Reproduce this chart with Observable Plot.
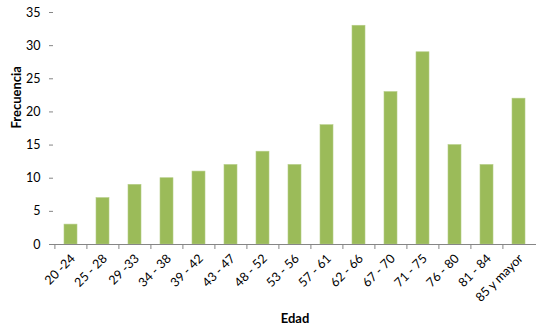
<!DOCTYPE html>
<html>
<head>
<meta charset="utf-8">
<script src="https://cdn.jsdelivr.net/npm/d3@7"></script>
<script src="https://cdn.jsdelivr.net/npm/@observablehq/plot@0.6"></script>
<style>
  html, body { margin: 0; padding: 0; background: #fff; }
  svg { display: block; }
</style>
</head>
<body>
<div id="chart"></div>
<script>
const categories = ["20 -24", "25 - 28", "29 -33", "34 - 38", "39 - 42", "43 - 47", "48 - 52", "53 - 56", "57 - 61", "62 - 66", "67 - 70", "71 - 75", "76 - 80", "81 - 84", "85 y mayor"];
const frecuencia = [3, 7, 9, 10, 11, 12, 14, 12, 18, 33, 23, 29, 15, 12, 22];
const yTicks = [0, 5, 10, 15, 20, 25, 30, 35];

const data = categories.map((c, i) => ({edad: c, frecuencia: frecuencia[i]}));

const W = 536, H = 332;
const mL = 53, mR = 0, mT = 12, mB = 88;
const step = (W - mL - mR) / categories.length;
const pxPerUnit = (H - mT - mB) / 35;
const font = "Lato, 'Open Sans', sans-serif";

const chart = Plot.plot({
  width: W,
  height: H,
  marginLeft: mL,
  marginRight: mR,
  marginTop: mT,
  marginBottom: mB,
  style: {fontFamily: font, fontSize: "12px", color: "#000", background: "#fff"},
  x: {domain: categories, paddingInner: 0.6, paddingOuter: 0.3, label: null},
  y: {domain: [0, 35], label: null},
  marks: [
    Plot.barY(data, {x: "edad", y: "frecuencia", fill: "#9BBB59", stroke: "#B5CD87", strokeWidth: 0.6}),
    Plot.ruleY([0], {stroke: "#868686"}),
    Plot.ruleX([0], {frameAnchor: "left", stroke: "#868686", y1: 0, y2: 35}),
    Plot.ruleX(categories, {x: d => d, dx: -step / 2, y1: 0, y2: -5 / pxPerUnit, stroke: "#868686"}),
    Plot.axisY({ticks: yTicks, tickSize: 4, tickPadding: 9, stroke: "#868686", fontSize: 12.5, label: null}),
    Plot.axisX({tickSize: 0, tickPadding: 12, tickRotate: -45, fontSize: 12.5, dx: 2, label: null}),
    Plot.text(["Frecuencia"], {frameAnchor: "left", dx: -37, rotate: -90, fontWeight: "bold", fontSize: 13}),
    Plot.text(["Edad"], {frameAnchor: "bottom", dy: 78, fontWeight: "bold", fontSize: 13})
  ]
});
document.getElementById("chart").appendChild(chart);
</script>
</body>
</html>
